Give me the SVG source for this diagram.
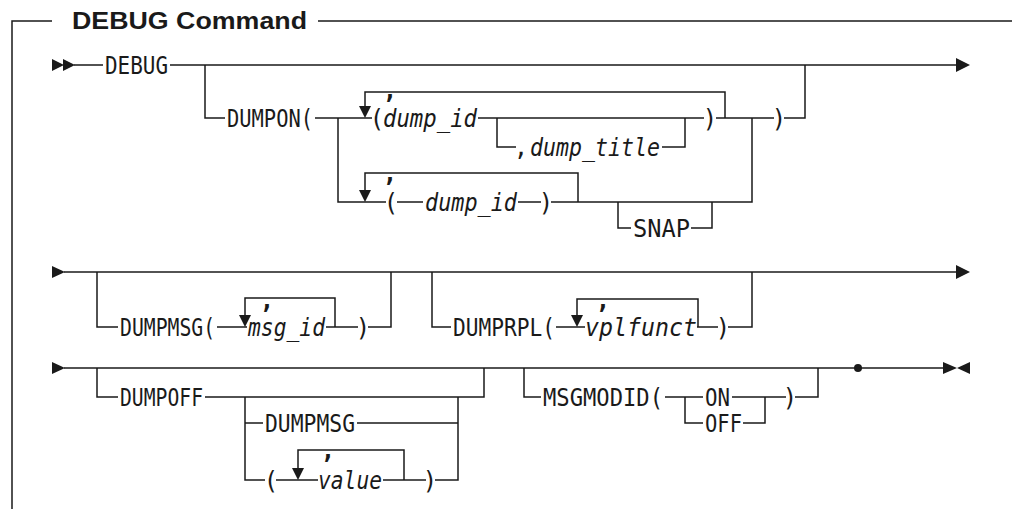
<svg xmlns="http://www.w3.org/2000/svg" width="1012" height="509" viewBox="0 0 1012 509">
<style>
.ln{fill:none;stroke:#1a1a1a;stroke-width:1.5}
.ah{fill:#1a1a1a;stroke:none}
.kw{font-family:"DejaVu Sans Mono","Liberation Mono",monospace;font-size:24px;fill:#1a1a1a}
.it{font-family:"DejaVu Sans Mono","Liberation Mono",monospace;font-size:24px;font-style:italic;fill:#1a1a1a}
.pc{font-family:"DejaVu Sans Mono","Liberation Mono",monospace;font-size:24px;fill:#1a1a1a;text-anchor:middle}
.cm{font-family:"DejaVu Sans Mono","Liberation Mono",monospace;font-size:24px;font-weight:bold;fill:#1a1a1a;text-anchor:middle}
.ttl{font-family:"Liberation Sans",Arial,sans-serif;font-size:23px;font-weight:bold;fill:#1a1a1a}
</style>
<rect width="1012" height="509" fill="#fff"/>
<g id="title"><text class="ttl" x="72" y="29" textLength="235" lengthAdjust="spacingAndGlyphs">DEBUG Command</text></g>
<g id="connectors">
<path class="ln" d="M12,509 V21 H52 M318,21 H1012"/>
<!-- row 1 -->
<polygon class="ah" points="52,59 64,65 52,71"/>
<polygon class="ah" points="63,59 75,65 63,71"/>
<path class="ln" d="M74,65 H103 M170,65 H958"/>
<polygon class="ah" points="956,58 970,65 956,72"/>
<path class="ln" d="M205,65 V118 H225"/>
<path class="ln" d="M315,118 H372"/>
<path class="ln" d="M725,118 V92 H365 V107"/>
<polygon class="ah" points="359,106 371,106 365,118"/>
<path class="ln" d="M478,118 H704"/>
<path class="ln" d="M497,118 V147 H516 M662,147 H685 V118"/>
<path class="ln" d="M716,118 H774 M784,118 H805 V65"/>
<path class="ln" d="M338,118 V202 H386 M397,202 H423 M518,202 H541 M551,202 H752 V118"/>
<path class="ln" d="M578,202 V173 H365 V191"/>
<polygon class="ah" points="359,190 371,190 365,202"/>
<path class="ln" d="M618,202 V228 H631 M691,228 H712 V202"/>
<!-- row 2 -->
<polygon class="ah" points="52,266 65,272 52,278"/>
<path class="ln" d="M64,272 H958"/>
<polygon class="ah" points="956,265 970,272 956,279"/>
<path class="ln" d="M97,272 V327 H118 M217,327 H247"/>
<path class="ln" d="M335,327 V298 H245 V316"/>
<polygon class="ah" points="239,315 251,315 245,327"/>
<path class="ln" d="M326,327 H358 M368,327 H391 V272"/>
<path class="ln" d="M432,272 V327 H451 M556,327 H585"/>
<path class="ln" d="M698,327 V299 H577 V316"/>
<polygon class="ah" points="571,315 583,315 577,327"/>
<path class="ln" d="M697,327 H718 M728,327 H752 V272"/>
<!-- row 3 -->
<polygon class="ah" points="52,362 65,368 52,374"/>
<path class="ln" d="M64,368 H943"/>
<circle class="ah" cx="858" cy="368" r="4"/>
<polygon class="ah" points="943,362 957,368 943,374"/>
<polygon class="ah" points="970,362 957,368 970,374"/>
<path class="ln" d="M97,368 V397 H118 M205,397 H484 V368"/>
<path class="ln" d="M245,397 V480 H265 M245,423 H263 M357,423 H458 M458,397 V480 H435"/>
<path class="ln" d="M276,480 H318"/>
<path class="ln" d="M404,480 V450 H298 V469"/>
<polygon class="ah" points="292,468 304,468 298,480"/>
<path class="ln" d="M383,480 H426"/>
<path class="ln" d="M524,368 V397 H541 M665,397 H703 M732,397 H786 M795,397 H818 V368"/>
<path class="ln" d="M685,397 V423 H703 M743,423 H765 V397"/>
</g>
<g id="n-debug"><text class="kw" x="105" y="74" textLength="63" lengthAdjust="spacingAndGlyphs">DEBUG</text></g>
<g id="n-dumpon"><text class="kw" x="227" y="127" textLength="86" lengthAdjust="spacingAndGlyphs">DUMPON(</text></g>
<g id="n-dumpid1">
<text class="cm" x="390" y="99">,</text>
<text class="pc" x="377" y="127">(</text>
<text class="it" x="383" y="127" textLength="94" lengthAdjust="spacingAndGlyphs">dump_id</text>
</g>
<g id="n-dumptitle">
<text class="pc" x="521" y="156">,</text>
<text class="it" x="530" y="156" textLength="130" lengthAdjust="spacingAndGlyphs">dump_title</text>
</g>
<g id="n-close1"><text class="pc" x="710" y="127">)</text></g>
<g id="n-close2"><text class="pc" x="779" y="127">)</text></g>
<g id="n-dumpid2">
<text class="cm" x="390" y="182">,</text>
<text class="pc" x="391" y="211">(</text>
<text class="it" x="425" y="211" textLength="92" lengthAdjust="spacingAndGlyphs">dump_id</text>
<text class="pc" x="546" y="211">)</text>
</g>
<g id="n-snap"><text class="kw" x="633" y="237" textLength="57" lengthAdjust="spacingAndGlyphs">SNAP</text></g>
<g id="n-dumpmsg1">
<text class="kw" x="120" y="336" textLength="95" lengthAdjust="spacingAndGlyphs">DUMPMSG(</text>
<text class="cm" x="267" y="309">,</text>
<text class="it" x="248" y="336" textLength="77" lengthAdjust="spacingAndGlyphs">msg_id</text>
<text class="pc" x="363" y="336">)</text>
</g>
<g id="n-dumprpl">
<text class="kw" x="453" y="336" textLength="102" lengthAdjust="spacingAndGlyphs">DUMPRPL(</text>
<text class="cm" x="603" y="309">,</text>
<text class="it" x="585" y="336" textLength="112" lengthAdjust="spacingAndGlyphs">vplfunct</text>
<text class="pc" x="723" y="336">)</text>
</g>
<g id="n-dumpoff"><text class="kw" x="120" y="406" textLength="83" lengthAdjust="spacingAndGlyphs">DUMPOFF</text></g>
<g id="n-dumpmsg2"><text class="kw" x="265" y="432" textLength="90" lengthAdjust="spacingAndGlyphs">DUMPMSG</text></g>
<g id="n-value">
<text class="pc" x="271" y="489">(</text>
<text class="cm" x="328" y="459">,</text>
<text class="it" x="318" y="489" textLength="64" lengthAdjust="spacingAndGlyphs">value</text>
<text class="pc" x="430" y="489">)</text>
</g>
<g id="n-msgmodid"><text class="kw" x="543" y="406" textLength="120" lengthAdjust="spacingAndGlyphs">MSGMODID(</text></g>
<g id="n-on"><text class="kw" x="705" y="406" textLength="25" lengthAdjust="spacingAndGlyphs">ON</text></g>
<g id="n-off"><text class="kw" x="705" y="432" textLength="37" lengthAdjust="spacingAndGlyphs">OFF</text></g>
<g id="n-close3"><text class="pc" x="790" y="406">)</text></g>
</svg>
